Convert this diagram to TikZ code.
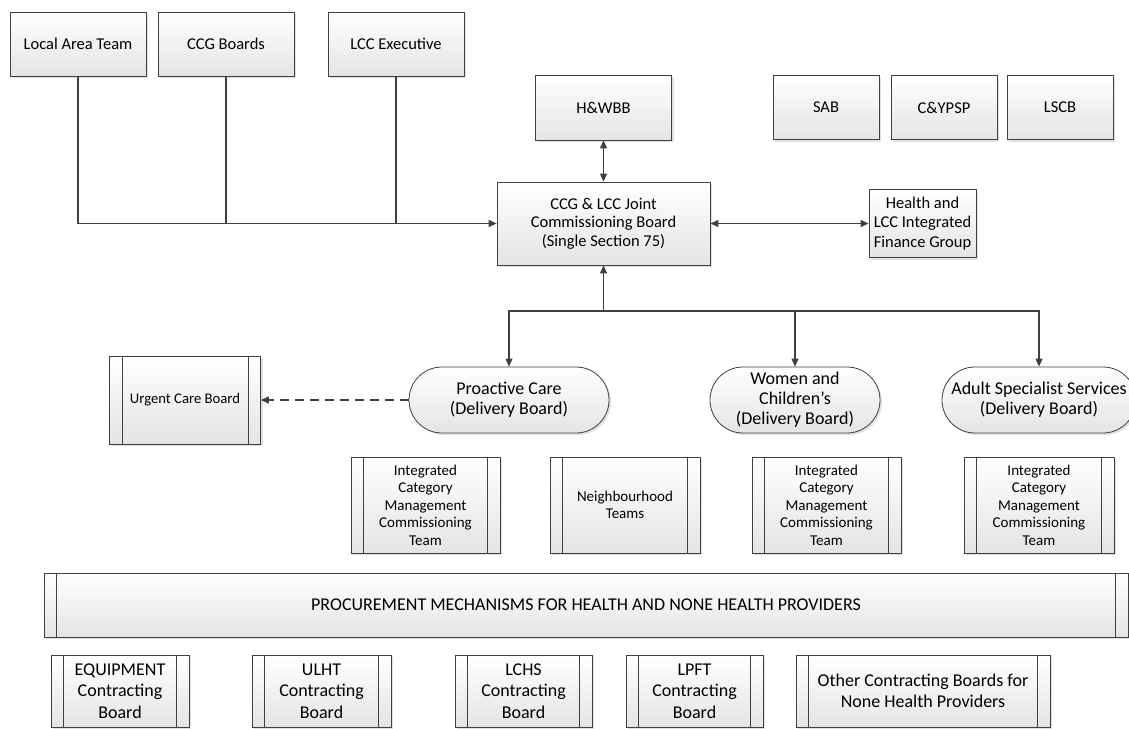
\documentclass[tikz,border=0pt]{standalone}
\usepackage{fontspec}
\setmainfont{Carlito}
\usetikzlibrary{positioning, arrows.meta, shapes.misc, shadows}

\definecolor{linegray}{HTML}{404040}
\definecolor{boxgray}{HTML}{E4E4E4}

\tikzset{
  box/.style={draw=linegray, line width=0.8pt, top color=white, bottom color=boxgray,
    align=center, inner sep=0pt, text=black,
    drop shadow={shadow xshift=2pt, shadow yshift=-2pt, fill=black!30, opacity=0.4}},
  topbox/.style={box, minimum width=136pt, minimum height=64pt,
    font=\fontsize{16.5}{19}\selectfont},
  smallbox/.style={box, minimum width=106pt, minimum height=64pt,
    font=\fontsize{16.5}{19}\selectfont},
  subproc/.style={box, path picture={
      \draw[linegray, line width=0.8pt]
        ([xshift=12.5pt]path picture bounding box.north west) -- ([xshift=12.5pt]path picture bounding box.south west)
        ([xshift=-12.5pt]path picture bounding box.north east) -- ([xshift=-12.5pt]path picture bounding box.south east);}},
  teambox/.style={subproc, minimum width=149pt, minimum height=96pt,
    font=\fontsize{15}{17.5}\selectfont},
  contractbox/.style={subproc, minimum width=138pt, minimum height=72pt,
    font=\fontsize{18}{21.5}\selectfont},
  delivery/.style={box, rounded rectangle, minimum height=66pt,
    font=\fontsize{18}{20}\selectfont},
  conn/.style={draw=linegray, line width=1.2pt},
}

\begin{document}
\begin{tikzpicture}[x=1pt, y=-1pt, on grid, >={Triangle[length=8pt, width=7pt]}]
  \useasboundingbox (0,0) rectangle (1129,728);

  % top row
  \node[topbox] (lat) at (78,44) {Local Area Team};
  \node[topbox] (ccg) [right=148pt of lat] {CCG Boards};
  \node[topbox] (lccx) [right=318pt of lat] {LCC Executive};

  \node[box, minimum width=213pt, minimum height=83pt,
        font=\fontsize{16.5}{18.5}\selectfont] (jcb) at (603.5,223.5)
        {CCG \& LCC Joint\\Commissioning Board\\(Single Section 75)};
  \node[topbox, minimum height=65pt] (hwbb) [above=116pt of jcb] {H\&WBB};
  \node[box, minimum width=107pt, minimum height=68pt,
        font=\fontsize{16.5}{19.5}\selectfont] (fin) [right=319pt of jcb]
        {Health and\\LCC Integrated\\Finance Group};

  \node[smallbox] (sab) at (826,107.5) {SAB};
  \node[smallbox] (cyp) [right=118pt of sab] {C\&YPSP};
  \node[smallbox] (lscb) [right=234pt of sab] {LSCB};

  % delivery boards
  \node[delivery, minimum width=200pt] (pro) at (509,400) {Proactive Care\\(Delivery Board)};
  \node[delivery, minimum width=170pt] (wac) [right=286pt of pro] {Women and\\Children’s\\(Delivery Board)};
  \node[delivery, minimum width=194pt] (ass) [right=530pt of pro] {Adult Specialist Services\\(Delivery Board)};
  \node[subproc, minimum width=151pt, minimum height=88pt,
        font=\fontsize{14.7}{17}\selectfont] (ucb) [left=324pt of pro] {Urgent Care Board};

  % teams
  \node[teambox] (icm1) at (425.5,505) {Integrated\\Category\\Management\\Commissioning\\Team};
  \node[teambox, minimum width=150pt] (nbt) [right=199.5pt of icm1] {Neighbourhood\\Teams};
  \node[teambox] (icm2) [right=401pt of icm1] {Integrated\\Category\\Management\\Commissioning\\Team};
  \node[teambox, minimum width=150pt] (icm3) [right=613.5pt of icm1] {Integrated\\Category\\Management\\Commissioning\\Team};

  % procurement
  \node[subproc, minimum width=1084pt, minimum height=64pt,
        font=\fontsize{18}{21}\selectfont] (proc) at (586,605)
        {PROCUREMENT MECHANISMS FOR HEALTH AND NONE HEALTH PROVIDERS};

  \node[contractbox] (eqp) at (120,691) {EQUIPMENT\\Contracting\\Board};
  \node[contractbox, minimum width=139pt] (ulht) [right=201.5pt of eqp] {ULHT\\Contracting\\Board};
  \node[contractbox, minimum width=137pt] (lchs) [right=403.5pt of eqp] {LCHS\\Contracting\\Board};
  \node[contractbox, minimum width=137pt] (lpft) [right=574.5pt of eqp] {LPFT\\Contracting\\Board};
  \node[contractbox, minimum width=254pt] (other) [right=803pt of eqp] {Other Contracting Boards for\\None Health Providers};

  % connectors
  \draw[conn, ->] (lat) |- (jcb);
  \draw[conn] (ccg) -- (ccg |- jcb.west);
  \draw[conn] (lccx) -- (lccx |- jcb.west);
  \draw[conn, <->] (hwbb) -- (jcb);
  \draw[conn, <->] (jcb) -- (fin);

  \coordinate[below=87.5pt of jcb] (bus);
  \draw[conn, ->] (bus) -- (jcb);
  \draw[conn, ->] (bus) -| (pro);
  \draw[conn, ->] (bus) -| (wac);
  \draw[conn, ->] (bus) -| (ass);
  \draw[conn, ->, dash pattern=on 9pt off 6pt] (pro) -- (ucb);
\end{tikzpicture}
\end{document}
